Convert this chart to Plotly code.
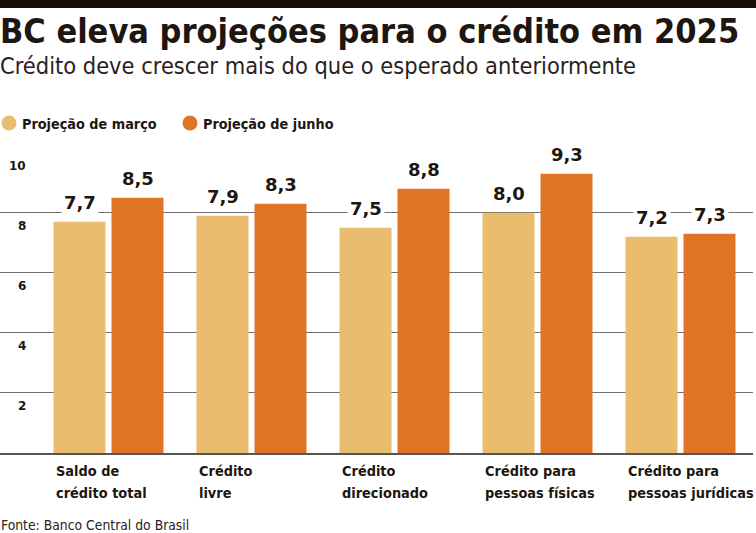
import plotly.graph_objects as go

# data
categories = ["Saldo de crédito total", "Crédito livre", "Crédito direcionado",
              "Crédito para pessoas físicas", "Crédito para pessoas jurídicas"]
category_lines = [("Saldo de", "crédito total"), ("Crédito", "livre"),
                  ("Crédito", "direcionado"), ("Crédito para", "pessoas físicas"),
                  ("Crédito para", "pessoas jurídicas")]
proj_marco = [7.7, 7.9, 7.5, 8.0, 7.2]
proj_junho = [8.5, 8.3, 8.8, 9.3, 7.3]
series_names = ["Projeção de março", "Projeção de junho"]
y_ticks = [2, 4, 6, 8, 10]
y_tick_labels = ["2", "4", "6", "8", "10"]

title = "BC eleva projeções para o crédito em 2025"
subtitle = "Crédito deve crescer mais do que o esperado anteriormente"
source = "Fonte: Banco Central do Brasil"

W, H = 756, 533
TOP, BOTTOM, RIGHT = 152, 80, 3
PLOT_H = H - TOP - BOTTOM
PLOT_W = W - RIGHT
COL_MARCO = "#E9BC6E"
COL_JUNHO = "#E07426"
INK = "#1d1611"
NARROW = "DejaVu Sans Condensed, Liberation Sans Narrow, sans-serif"
WIDE = "DejaVu Sans, Verdana, sans-serif"

unit = 143.0  # px per category
bar_w = 52 / unit


def py(y_px):
    # pixel row -> paper y
    return (H - BOTTOM - y_px) / PLOT_H


def px(x_px):
    return x_px / PLOT_W


fig = go.Figure()
fig.add_trace(go.Bar(x=categories, y=proj_marco, name=series_names[0],
                     marker=dict(color=COL_MARCO, line=dict(width=0)),
                     width=bar_w, offset=-55 / unit, hoverinfo="y"))
fig.add_trace(go.Bar(x=categories, y=proj_junho, name=series_names[1],
                     marker=dict(color=COL_JUNHO, line=dict(width=0)),
                     width=bar_w, offset=3 / unit, hoverinfo="y"))

ann = []
# value labels
for vals, shift in ((proj_marco, -29), (proj_junho, 29)):
    for c, v in zip(categories, vals):
        ann.append(dict(x=c, y=v, xref="x", yref="y", xshift=shift, yshift=6,
                        yanchor="bottom", showarrow=False, bgcolor="white", borderpad=2,
                        text=f"{v:.1f}".replace(".", ","),
                        font=dict(family=WIDE, size=18, color=INK, weight="bold")))
# y tick labels under the gridlines
for t, lab in zip(y_ticks, y_tick_labels):
    ann.append(dict(x=0, xref="paper", xshift=28, xanchor="right", y=t, yref="y",
                    yshift=-13.5, yanchor="middle", showarrow=False, text=lab,
                    font=dict(family=WIDE, size=12, color=INK, weight="bold")))
# category labels, left aligned under each group
for c, lines in zip(categories, category_lines):
    for i, line in enumerate(lines):
        ann.append(dict(x=c, xref="x", xshift=-55, xanchor="left",
                        y=py(470.5 + 22 * i), yref="paper", yanchor="middle",
                        showarrow=False, text=line,
                        font=dict(family=NARROW, size=14.4, color=INK, weight="bold")))
# title, subtitle, source
ann.append(dict(x=0, xref="paper", xanchor="left", xshift=-2, y=py(31), yref="paper",
                yanchor="middle", showarrow=False, text=title,
                font=dict(family=NARROW, size=34, color=INK, weight="bold")))
ann.append(dict(x=0, xref="paper", xanchor="left", xshift=-2, y=py(66.5), yref="paper",
                yanchor="middle", showarrow=False, text=subtitle,
                font=dict(family=NARROW, size=23.4, color="#2a211b")))
ann.append(dict(x=0, xref="paper", xanchor="left", xshift=-1, y=py(525), yref="paper",
                yanchor="middle", showarrow=False, text=source,
                font=dict(family=NARROW, size=13.8, color="#2a211b")))

# legend: circles + labels
shapes = [dict(type="rect", xref="paper", yref="paper", x0=0, x1=px(W), y0=py(8), y1=py(0),
               fillcolor="#1a0f08", line=dict(width=0), layer="above")]
for name, col, cx, tx in ((series_names[0], COL_MARCO, 9, 20), (series_names[1], COL_JUNHO, 190, 201)):
    shapes.append(dict(type="circle", xref="paper", yref="paper",
                       x0=px(cx - 7.5), x1=px(cx + 7.5), y0=py(130.5), y1=py(115.5),
                       fillcolor=col, line=dict(width=0)))
    ann.append(dict(x=px(tx), xref="paper", xanchor="left", y=py(124), yref="paper",
                    yanchor="middle", showarrow=False, text=name,
                    font=dict(family=NARROW, size=14.3, color=INK, weight="bold")))

fig.update_layout(
    width=W, height=H,
    margin=dict(l=0, r=RIGHT, t=TOP, b=BOTTOM, pad=0),
    paper_bgcolor="white", plot_bgcolor="white",
    showlegend=False,
    annotations=ann, shapes=shapes,
    xaxis=dict(range=[-108.5 / unit, -108.5 / unit + PLOT_W / unit], showticklabels=False,
               showgrid=False, zeroline=False, showline=True, linecolor="#555555",
               linewidth=2, ticks="", fixedrange=True),
    yaxis=dict(range=[0, 10.02], tickvals=y_ticks, showticklabels=False, showgrid=True,
               gridcolor="#6f6f6f", gridwidth=1.3, zeroline=False, showline=False,
               fixedrange=True),
)

# the page body has a default 8px margin; drop it so the chart sits at the corner
fig.write_html("out.html", config={"displayModeBar": False},
               post_script="document.body.style.margin='0px';")
